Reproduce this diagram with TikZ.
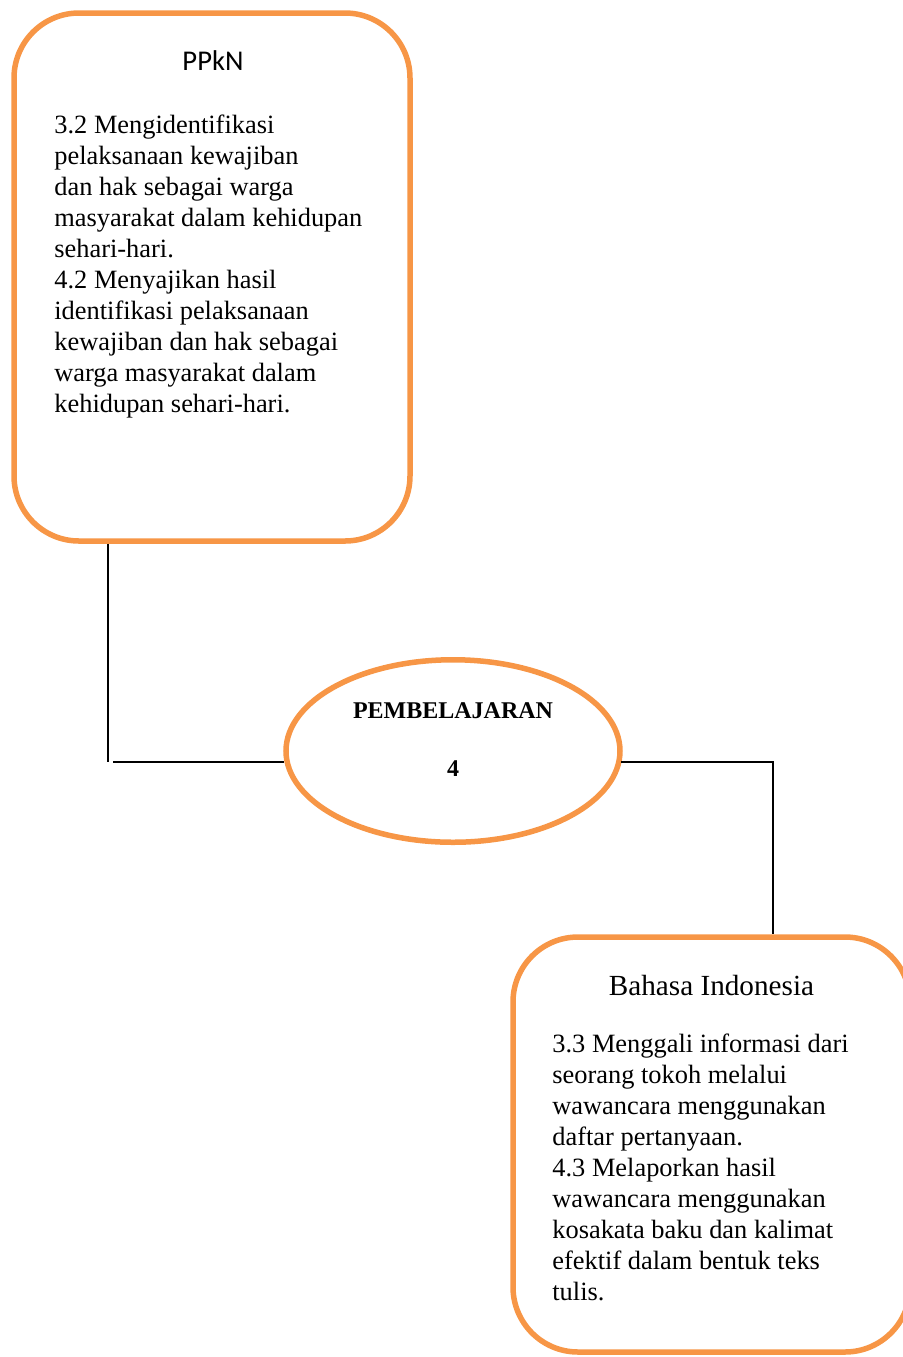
\documentclass[tikz,border=0pt]{standalone}
\usepackage{fontspec}
\setmainfont{Liberation Serif}
\newfontfamily\calibrifont{Carlito}
\usetikzlibrary{shapes.geometric,calc}
\definecolor{accentorange}{HTML}{F79646}
\tikzset{
  subjbox/.style={draw=accentorange, line width=2.75pt, rounded corners=32.5pt, rectangle, inner sep=0pt, fill=white},
  centerell/.style={draw=accentorange, line width=2.75pt, ellipse, inner sep=0pt, fill=white},
  conn/.style={draw=black, line width=1pt},
  bodytext/.style={inner sep=0pt, anchor=base west, align=left, font={\fontsize{13.2}{15.5}\selectfont}},
  titletext/.style={inner sep=0pt, anchor=base, font={\fontsize{14.6}{17}\selectfont}},
}
\begin{document}
\begin{tikzpicture}[x=0.5pt, y=-0.5pt]
\useasboundingbox (0,0) rectangle (903,1357);
% boxes
\node[subjbox, minimum width=198pt, minimum height=264pt] (ppkn) at (212,277) {};
\node[subjbox, minimum width=198.5pt, minimum height=207.5pt] (bi) at (711.5,1144.5) {};
\node[centerell, minimum width=167pt, minimum height=91.25pt] (ell) at (453,751) {};
% texts (anchor base = baseline of the last line)
\node[titletext, font={\calibrifont\fontsize{14.3}{17}\selectfont}] (ppkntitle) at (213,70.7) {PPkN};
\node[bodytext] (ppknbody) at (54,412) {3.2 Mengidentifikasi\\pelaksanaan kewajiban\\dan hak sebagai warga\\masyarakat dalam kehidupan\\sehari-hari.\\4.2 Menyajikan hasil\\identifikasi pelaksanaan\\kewajiban dan hak sebagai\\warga masyarakat dalam\\kehidupan sehari-hari.};
\node[titletext] (bititle) at (711.5,995) {Bahasa Indonesia};
\node[bodytext] (bibody) at (552,1300) {3.3 Menggali informasi dari\\seorang tokoh melalui\\wawancara menggunakan\\daftar pertanyaan.\\4.3 Melaporkan hasil\\wawancara menggunakan\\kosakata baku dan kalimat\\efektif dalam bentuk teks\\tulis.};
\node[inner sep=0pt, anchor=base, font={\bfseries\fontsize{12}{14}\selectfont}] (elltitle) at (453,718) {PEMBELAJARAN};
\node[inner sep=0pt, anchor=base, font={\bfseries\fontsize{12}{14}\selectfont}] (ellnum) at (453,776) {4};
% connectors
\coordinate (lx) at (108,0);
\coordinate (lc) at (108,762);
\coordinate (lh) at (113,762);
\coordinate (rx) at (773,0);
\draw[conn] (lx |- ppkn.south) -- (lc);
\draw[conn] (lh) -- (lh -| ell.183.8);
\draw[conn] (ell.356.2 |- lc) -| (rx |- bi.north);
\end{tikzpicture}
\end{document}
